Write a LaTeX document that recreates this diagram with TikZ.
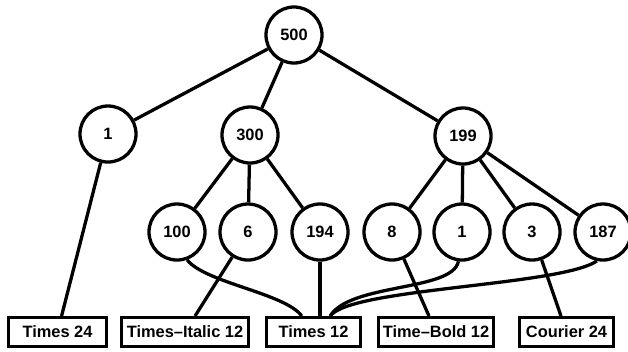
\documentclass[tikz,border=0pt]{standalone}
\usepackage{fontspec}
\setmainfont{Liberation Sans}
\usetikzlibrary{positioning}
\tikzstyle{num}=[draw, circle, minimum size=1.68cm, inner sep=0pt]
\tikzstyle{leaf}=[draw, rectangle, minimum height=0.86cm, inner xsep=0.1cm, inner ysep=0pt]

\begin{document}
\begin{tikzpicture}[x=0.03cm, y=-0.03cm, line width=2.8pt, font=\fontsize{14}{16}\selectfont\bfseries]
    \useasboundingbox (0,0) rectangle (628,351);

    % Upper levels
    \node[num] (n500) at (294,35) {500};
    \node[num] (n1) at (108,134) {1};
    \node[num] (n300) at (250,135) {300};
    \node[num] (n199) at (463,136) {199};

    % Lower level
    \foreach \name/\x/\lab in {n100/177/100, n6/248/6, n194/320/194, n8/392/8, n1b/462/1, n3/532/3, n187/603/187} {
        \node[num] (\name) at (\x,232) {\lab};
    }

    % Font boxes
    \node[leaf, minimum width=2.94cm] (t24) at (57.5,332) {Times 24};
    \node[leaf, minimum width=3.81cm] (ti12) at (185,332) {Times--Italic 12};
    \node[leaf, minimum width=2.82cm] (t12) at (313.5,332) {Times 12};
    \node[leaf, minimum width=3.45cm] (tb12) at (436,332) {Time--Bold 12};
    \node[leaf, minimum width=2.82cm] (c24) at (566.5,332) {Courier 24};

    % Tree edges
    \foreach \a/\b in {n500/n1, n500/n300, n500/n199, n300/n100, n300/n6, n300/n194,
                       n199/n8, n199/n1b, n199/n3, n199/n187} {
        \draw (\a) -- (\b);
    }

    % Leaves to fonts
    \draw (n1) -- (t24);
    \draw (n6) -- (ti12);
    \draw (n194) -- (n194 |- t12.north);
    \draw (n8) -- (tb12);
    \draw (n3) -- (c24);
    \draw (n100.-70) .. controls +(18,23) and +(-17,-23) .. ([xshift=-0.35cm]t12.north);
    \draw (n1b.-97) .. controls +(-6,30) and +(20,-33) .. ([xshift=0.5cm]t12.north);
    \draw (n187.-102) .. controls +(-37,25) and +(20,-28) .. ([xshift=0.5cm]t12.north);

\end{tikzpicture}
\end{document}
